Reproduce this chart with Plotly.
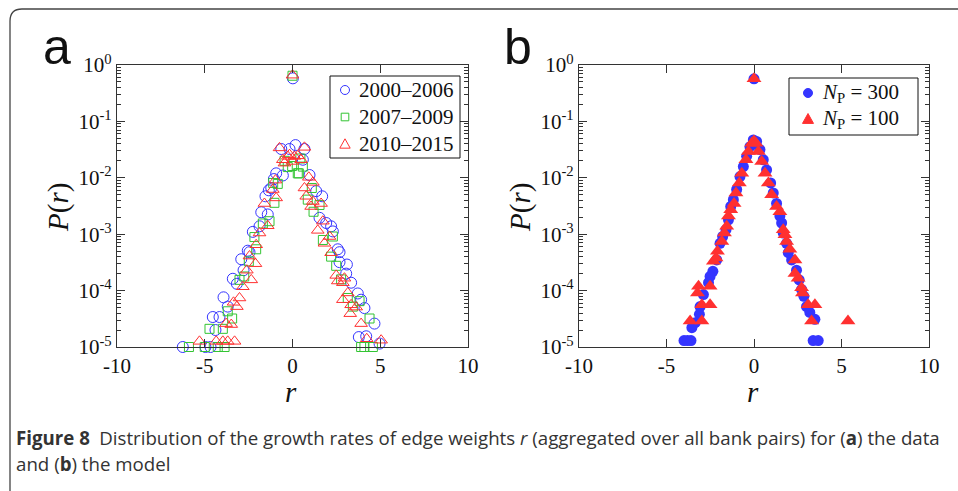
import plotly.graph_objects as go

# ---- panel a: data, three periods ----
r_2000_2006 = [0.02, -0.64, 0.17, -0.17, 0.68, 0.59, -0.55, -0.93, -1.06, 0.97,
               -1.21, -1.35, 1.35, -1.54, 1.69, -1.78, -1.41, -1.88, -2.26, -2.55,
               -2.45, -2.92, -2.79, -3.40, -3.17, -3.93, -3.69, -4.54, -4.16, -4.39,
               -6.25, -4.96, -4.67, 1.54, 1.92, 2.20, 2.30, 2.58, 2.68, 2.68,
               3.10, 3.06, 3.34, 3.72, 3.91, 4.10, 4.67, 3.78, 4.20, 4.96]
p_2000_2006 = [0.58, 0.0324, 0.038, 0.0324, 0.0324, 0.0209, 0.011, 0.012, 0.0095, 0.0112,
               0.0066, 0.006, 0.0058, 0.0047, 0.0047, 0.00245, 0.00224, 0.00138, 0.0011, 5.1e-4,
               4.8e-4, 3.6e-4, 2.3e-4, 1.62e-4, 1.32e-4, 7.6e-5, 5.2e-5, 3.4e-5, 3.4e-5, 2.0e-5,
               1e-5, 1e-5, 1e-5, 0.00195, 0.00158, 0.00138, 0.00112, 5.4e-4, 4.8e-4, 3.2e-4,
               2.9e-4, 2.0e-4, 1.38e-4, 8.9e-5, 6.9e-5, 4.9e-5, 2.6e-5, 1.5e-5, 1.55e-5, 1.15e-5]

r_2007_2009 = [0.0, -0.27, -0.02, 0.30, 0.59, 0.36, -0.84, -1.03, 0.87, 1.54,
               -1.10, 1.10, -1.31, -1.69, -2.17, -2.07, -2.49, -3.02, -2.75, -3.69,
               -3.44, -3.97, -4.73, -5.90, -5.00, -4.26, -3.87, 1.73, 2.30, 2.20,
               2.49, 2.77, 3.15, 3.82, 3.44, 4.39, 3.91, 4.10, 4.58, 1.20,
               0.45, -0.45]
p_2007_2009 = [0.645, 0.0155, 0.0162, 0.012, 0.0158, 0.012, 0.0078, 0.0036, 0.0041, 0.0033,
               0.0081, 0.0066, 0.0017, 0.00155, 8.9e-4, 5.4e-4, 3.3e-4, 1.55e-4, 1.78e-4, 4.3e-5,
               3.2e-5, 2.1e-5, 2.1e-5, 1e-5, 1e-5, 1e-5, 1e-5, 7.9e-4, 9.1e-4, 4.0e-4,
               2.75e-4, 1.58e-4, 7.4e-5, 6.5e-5, 5.2e-5, 3.2e-5, 1e-5, 1e-5, 1e-5, 0.0025,
               0.022, 0.02]

r_2010_2015 = [0.0, -0.74, 0.68, -0.27, 0.11, 0.00, -0.46, -0.17, 0.30, 0.49,
               -0.55, -0.97, 0.93, -1.12, -0.93, 0.68, 1.16, 0.78, 1.16, 1.63,
               1.06, -1.60, -1.41, -1.88, -2.07, -2.45, -2.11, -2.60, -2.35, -2.83,
               -3.02, -3.36, -3.17, -3.78, -3.49, -5.30, -4.35, -3.97, -3.69, -3.30,
               1.73, 1.44, 2.11, 1.82, 2.20, 2.49, 2.58, 2.96, 2.87, 3.15,
               2.87, 3.34, 3.63, 3.29, 3.91, 4.23, 5.05]
p_2010_2015 = [0.66, 0.0339, 0.0347, 0.024, 0.024, 0.0195, 0.0182, 0.0257, 0.0245, 0.0209,
               0.0209, 0.0091, 0.0102, 0.0062, 0.0044, 0.0066, 0.0083, 0.0047, 0.0038, 0.0035,
               0.0031, 0.0035, 0.00141, 0.00105, 6.5e-4, 4.1e-4, 3.0e-4, 2.3e-4, 1.55e-4, 1.17e-4,
               7.4e-5, 6.2e-5, 5.2e-5, 2.6e-5, 2.5e-5, 1.26e-5, 1.26e-5, 1.26e-5, 1.26e-5, 1.26e-5,
               0.0017, 0.00117, 9.1e-4, 6.9e-4, 4.7e-4, 1.86e-4, 1.48e-4, 1.66e-4, 1.38e-4, 9.1e-5,
               6.9e-5, 5.6e-5, 5.1e-5, 3.9e-5, 2.6e-5, 1.4e-5, 1.32e-5]

# ---- panel b: model, two values of N_P ----
r_np300 = [0.0, -0.04, -0.23, -0.42, -0.61, -0.80, -0.99, -1.18, -1.33, -1.46,
           -1.60, -1.79, -1.94, -2.13, -2.35, -2.51, -2.60, -2.89, -3.08, -3.12,
           -3.36, -3.55, -4.00, -3.80, -3.60, 0.15, 0.34, 0.53, 0.72, 0.95,
           1.10, 1.29, 1.48, 1.58, 1.67, 1.86, 1.96, 2.15, 2.43, 2.58,
           2.72, 2.85, 3.00, 3.19, 3.48, 3.38, 3.67]
p_np300 = [0.57, 0.047, 0.0357, 0.024, 0.0158, 0.0105, 0.0062, 0.0041, 0.0031, 0.0018,
           0.0012, 9.1e-4, 6.9e-4, 3.5e-4, 2.2e-4, 1.78e-4, 1.38e-4, 8.5e-5, 5.2e-5, 3.8e-5,
           2.7e-5, 2.2e-5, 1.3e-5, 1.3e-5, 1.3e-5, 0.044, 0.0316, 0.0209, 0.0138, 0.0081,
           0.0054, 0.0035, 0.0021, 0.00158, 0.00105, 6.9e-4, 4.7e-4, 3.5e-4, 2.3e-4, 1.55e-4,
           1.05e-4, 7.9e-5, 5.2e-5, 4.1e-5, 3.1e-5, 1.3e-5, 1.3e-5]

r_np100 = [0.0, 0.0, -0.13, -0.32, -0.46, -0.70, -0.84, -1.03, -1.14, -1.33,
           -1.46, -1.56, -1.69, -1.84, -2.09, -2.17, -2.32, -2.51, -3.23, -3.17,
           -2.98, -2.51, -3.65, -2.98, 0.11, 0.25, 0.44, 0.63, 0.82, 1.01,
           1.29, 1.48, 1.67, 1.77, 1.86, 2.05, 2.34, 2.34, 2.52, 2.72,
           2.77, 3.09, 3.48, 3.29, 5.37]
p_np100 = [0.57, 0.045, 0.041, 0.0294, 0.0209, 0.012, 0.0081, 0.0054, 0.0035, 0.0027,
           0.0021, 0.00138, 0.00105, 7.4e-4, 5.0e-4, 3.8e-4, 3.3e-4, 1.2e-4, 9.1e-5, 1.2e-4,
           5.6e-5, 5.6e-5, 2.9e-5, 2.9e-5, 0.041, 0.0294, 0.0195, 0.012, 0.0081, 0.005,
           0.0031, 0.0025, 0.0012, 9.8e-4, 7.4e-4, 5.4e-4, 3.5e-4, 2.0e-4, 1.66e-4, 1.12e-4,
           9.1e-5, 5.6e-5, 5.6e-5, 2.9e-5, 2.9e-5]

labels_a = ["2000\u20132006", "2007\u20132009", "2010\u20132015"]
labels_b = ["<i>N</i><sub>P</sub> = 300", "<i>N</i><sub>P</sub> = 100"]

x_ticks = [-10, -5, 0, 5, 10]
x_ticktext = ["-10", "-5", "0", "5", "10"]
y_ticks = [1e-5, 1e-4, 1e-3, 1e-2, 1e-1, 1]
y_ticktext = ["10<sup>-5</sup>", "10<sup>-4</sup>", "10<sup>-3</sup>",
              "10<sup>-2</sup>", "10<sup>-1</sup>", "10<sup>0</sup>"]

W, H = 958, 491
SERIF = "Liberation Serif, Times New Roman, serif"
SANS = "Liberation Sans, Arial, sans-serif"
AXC = "#333333"
TXT = "#111111"
BLUE, GREEN, RED = "#3535ff", "#33c433", "#ff3030"


def px(x):
    return x / W


def py(y):
    return 1 - y / H


fig = go.Figure()

# panel a (open symbols)
fig.add_trace(go.Scatter(x=r_2000_2006, y=p_2000_2006, mode="markers", name=labels_a[0],
                         marker=dict(symbol="circle-open", size=11, color=BLUE, line=dict(width=1)),
                         xaxis="x", yaxis="y", cliponaxis=False))
fig.add_trace(go.Scatter(x=r_2007_2009, y=p_2007_2009, mode="markers", name=labels_a[1],
                         marker=dict(symbol="square-open", size=9, color=GREEN, line=dict(width=1)),
                         xaxis="x", yaxis="y", cliponaxis=False))
fig.add_trace(go.Scatter(x=r_2010_2015, y=p_2010_2015, mode="markers", name=labels_a[2],
                         marker=dict(symbol="triangle-up-open", size=11, color=RED, line=dict(width=1)),
                         xaxis="x", yaxis="y", cliponaxis=False))

# panel b (filled symbols)
fig.add_trace(go.Scatter(x=r_np300, y=p_np300, mode="markers", name=labels_b[0],
                         marker=dict(symbol="circle", size=11, color=BLUE, line=dict(width=0)),
                         xaxis="x2", yaxis="y2", cliponaxis=False))
fig.add_trace(go.Scatter(x=r_np100, y=p_np100, mode="markers", name=labels_b[1],
                         marker=dict(symbol="triangle-up", size=13, color=RED, line=dict(width=0)),
                         xaxis="x2", yaxis="y2", cliponaxis=False))

xa = dict(range=[-10, 10], tickmode="array", tickvals=x_ticks, ticktext=x_ticktext,
          ticks="inside", ticklen=8, tickwidth=1.2, tickcolor=AXC,
          showline=True, linecolor=AXC, linewidth=1.2, mirror="ticks",
          showgrid=False, zeroline=False, automargin=False,
          tickfont=dict(family=SERIF, size=21, color=TXT))
ya = dict(type="log", range=[-5, 0], tickmode="array", tickvals=y_ticks, ticktext=y_ticktext,
          ticks="inside", ticklen=8, tickwidth=1.2, tickcolor=AXC,
          minor=dict(ticks="inside", ticklen=4, tickwidth=1, tickcolor=AXC, dtick="D1", showgrid=False),
          showline=True, linecolor=AXC, linewidth=1.2, mirror="ticks",
          showgrid=False, zeroline=False, automargin=False,
          tickfont=dict(family=SERIF, size=21, color=TXT))

ya_top, ya_bot = py(65), py(347)
fig.update_layout(
    template="none",
    width=W, height=H, autosize=False,
    margin=dict(l=0, r=0, t=0, b=0, pad=0),
    paper_bgcolor="white", plot_bgcolor="white",
    xaxis=dict(xa, domain=[px(117), px(468)], anchor="y"),
    yaxis=dict(ya, domain=[ya_bot, ya_top], anchor="x"),
    xaxis2=dict(xa, domain=[px(579), px(929)], anchor="y2"),
    yaxis2=dict(ya, domain=[ya_bot, ya_top], anchor="x2"),
    showlegend=False,
)

annotations = []
shapes = []


def text(x, y, s, size, family=SERIF, angle=0, xanchor="center", color=TXT):
    annotations.append(dict(x=px(x), y=py(y), xref="paper", yref="paper", text=s,
                            showarrow=False, textangle=angle, xanchor=xanchor, yanchor="middle",
                            font=dict(family=family, size=size, color=color)))


# panel letters
text(57, 47, "a", 50, SANS)
text(518, 47, "b", 50, SANS)
# axis titles
for xc in (58, 520):
    text(xc, 208, "<i>P</i>(<i>r</i>)", 29, angle=-90)
for xc in (291, 753):
    text(xc, 392, "<i>r</i>", 29)


# hand-built legends (box + symbol swatch + label)
def box(x0, y0, x1, y1):
    shapes.append(dict(type="rect", xref="paper", yref="paper", x0=px(x0), x1=px(x1),
                       y0=py(y1), y1=py(y0), line=dict(color=TXT, width=1), fillcolor="white",
                       layer="above"))


def swatch(kind, cx, cy, color, filled):
    fill = color if filled else "rgba(0,0,0,0)"
    if kind == "circle":
        rr = 4.5
        shapes.append(dict(type="circle", xref="paper", yref="paper",
                           x0=px(cx - rr), x1=px(cx + rr), y0=py(cy + rr), y1=py(cy - rr),
                           line=dict(color=color, width=1), fillcolor=fill, layer="above"))
    elif kind == "square":
        hh = 3.8
        shapes.append(dict(type="rect", xref="paper", yref="paper",
                           x0=px(cx - hh), x1=px(cx + hh), y0=py(cy + hh), y1=py(cy - hh),
                           line=dict(color=color, width=1), fillcolor=fill, layer="above"))
    else:
        hw = 5.5 if filled else 5.2
        path = (f"M {px(cx)},{py(cy - hw)} L {px(cx - hw)},{py(cy + hw * 0.8)} "
                f"L {px(cx + hw)},{py(cy + hw * 0.8)} Z")
        shapes.append(dict(type="path", xref="paper", yref="paper", path=path,
                           line=dict(color=color, width=1), fillcolor=fill, layer="above"))


box(330, 76, 460, 158)
for i, (kind, col, lab) in enumerate(zip(["circle", "square", "triangle"],
                                         [BLUE, GREEN, RED], labels_a)):
    yy = 90 + 27 * i
    swatch(kind, 345, yy, col, False)
    text(357, yy, lab, 21, xanchor="left")

box(789, 78, 918, 135)
for i, (kind, col, lab) in enumerate(zip(["circle", "triangle"], [BLUE, RED], labels_b)):
    yy = 93 + 26 * i
    swatch(kind, 808, yy, col, True)
    text(820, yy, lab, 21, xanchor="left")

# caption
CAP = "Open Sans, Noto Sans, sans-serif"
text(14, 437, "<b>Figure 8</b>\u2002Distribution of the growth rates of edge weights <i>r</i> "
              "(aggregated over all bank pairs) for (<b>a</b>) the data", 18.7, CAP,
     xanchor="left", color="#333")
text(14, 463, "and (<b>b</b>) the model", 18.7, CAP, xanchor="left", color="#333")

# rounded frame around the figure
x0, y0, rad = 10, 9, 12
frame = (f"M {px(x0)},{py(H + 2)} L {px(x0)},{py(y0 + rad)} "
         f"Q {px(x0)},{py(y0)} {px(x0 + rad)},{py(y0)} L {px(W + 2)},{py(y0)}")
shapes.append(dict(type="path", path=frame, xref="paper", yref="paper",
                   line=dict(color="#444", width=1.3)))

fig.update_layout(annotations=annotations, shapes=shapes)

fig.write_html("out.html")
